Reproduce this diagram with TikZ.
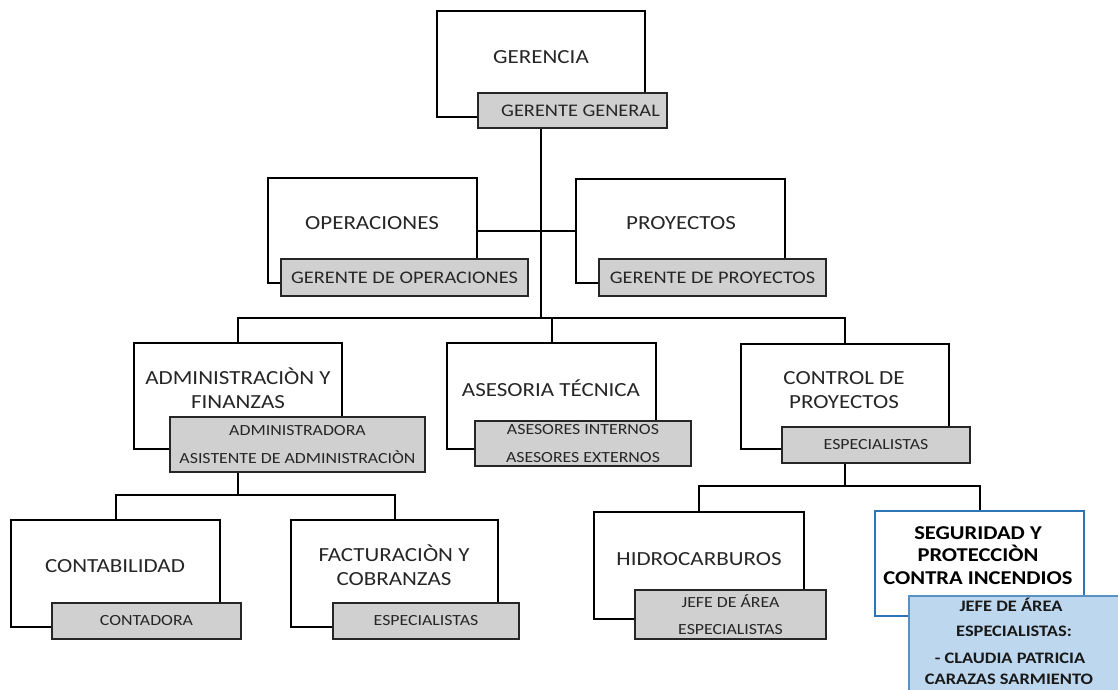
\documentclass[tikz,border=0pt]{standalone}
\usepackage{fontspec}
\setmainfont{Carlito}[FakeStretch=1.15]
\definecolor{txt}{HTML}{262626}
\definecolor{gfill}{HTML}{D0D0D0}
\definecolor{bfill}{HTML}{BDD7EE}
\definecolor{bline}{HTML}{2E75B6}
\tikzset{
  box/.style={draw=black, line width=2pt, fill=white, inner sep=0pt},
  segbox/.style={draw=bline, line width=1.6pt, fill=white, inner sep=0pt},
  gbox/.style={draw=black!85, line width=2.4pt, fill=gfill, inner sep=0pt, text=txt, align=center},
  bluebox/.style={draw=bline!80, line width=1.8pt, fill=bfill, inner sep=0pt},
  mainlbl/.style={text=txt, align=center, inner sep=0pt, font=\fontsize{20}{24}\selectfont},
  glbl/.style={font=\fontsize{15.5}{27.5}\selectfont},
  gtop/.style={font=\fontsize{17.7}{22}\selectfont},
  seglbl/.style={text=black, align=center, inner sep=0pt, font=\bfseries\fontsize{19.6}{22.5}\selectfont},
  bluelbl/.style={text=black!90, align=center, inner sep=0pt, font=\bfseries\fontsize{16}{20}\selectfont},
  conn/.style={draw=black, line width=2pt}
}
\begin{document}
\begin{tikzpicture}[x=1pt,y=-1pt]
\clip (0,0) rectangle (1118,689);
\fill[white] (0,0) rectangle (1118,689);

% white boxes
\node[box, minimum width=208pt, minimum height=106pt] (ger) at (541,64) {};
\node[box, minimum width=209pt, minimum height=105pt] (ope) at (372.5,230.5) {};
\node[box, minimum width=209pt, minimum height=104pt] (pro) at (680.5,230.5) {};
\node[box, minimum width=208pt, minimum height=106pt] (adm) at (238,396) {};
\node[box, minimum width=209pt, minimum height=106pt] (ase) at (551.5,396) {};
\node[box, minimum width=208pt, minimum height=105pt] (con) at (845,396.5) {};
\node[box, minimum width=209pt, minimum height=107pt] (cont) at (115.5,573.5) {};
\node[box, minimum width=207pt, minimum height=107pt] (fac) at (394.5,573.5) {};
\node[box, minimum width=210pt, minimum height=107pt] (hid) at (699,565.5) {};
\node[segbox, minimum width=209pt, minimum height=105pt] (seg) at (979.5,563.5) {};

% junction points
\coordinate (j1) at (541,318);
\coordinate (j2) at (238,495);
\coordinate (j3) at (845,486);

% connectors
\draw[conn] (ope.east) -- (pro.west);
\draw[conn] (adm.north) -- (adm.north |- j1) -- (con.north |- j1) -- (con.north);
\draw[conn] (ase.north) -- (ase.north |- j1);
\draw[conn] (cont.north) |- (j2) -| (fac.north);
\draw[conn] (hid.north) |- (j3) -| (seg.north);

% gray boxes
\node[gbox, gtop, minimum width=189pt, minimum height=35pt] (gger) at (572.5,110.5) {\hspace*{16pt}GERENTE GENERAL};
\node[gbox, gtop, minimum width=247pt, minimum height=37pt] (gope) at (404.5,277.5) {GERENTE DE OPERACIONES};
\node[gbox, gtop, minimum width=227pt, minimum height=37pt] (gpro) at (712.5,277.5) {GERENTE DE PROYECTOS};
\node[gbox, glbl, minimum width=255pt, minimum height=55pt] (gadm) at (297.5,444.5) {ADMINISTRADORA\\ASISTENTE DE ADMINISTRACIÒN};
\node[gbox, glbl, minimum width=216pt, minimum height=45pt] (gase) at (583,443.5) {ASESORES INTERNOS\\ASESORES EXTERNOS};
\node[gbox, glbl, minimum width=188pt, minimum height=36pt] (gcon) at (876,445) {ESPECIALISTAS};
\node[gbox, glbl, minimum width=189pt, minimum height=36pt] (gcont) at (146.5,621) {CONTADORA};
\node[gbox, glbl, minimum width=186pt, minimum height=36pt] (gfac) at (426,621) {ESPECIALISTAS};
\node[gbox, glbl, minimum width=191pt, minimum height=49pt] (ghid) at (730.5,614.5) {JEFE DE ÁREA\\ESPECIALISTAS};
\node[bluebox, minimum width=216pt, minimum height=104pt] (blu) at (1017,648) {};

% connectors from gray boxes
\draw[conn] (gger.south -| ger.south) -- (j1);
\draw[conn] (gadm.south -| adm.south) -- (j2);
\draw[conn] (gcon.south -| con.south) -- (j3);

% main labels
\node[mainlbl] (tger) at (541,57) {GERENCIA};
\node[mainlbl] (tope) at (372,223) {OPERACIONES};
\node[mainlbl] (tpro) at (681,223) {PROYECTOS};
\node[mainlbl] (tadm) at (238,388.5) {ADMINISTRACIÒN Y\\FINANZAS};
\node[mainlbl] (tase) at (551,388) {ASESORIA TÉCNICA};
\node[mainlbl] (tcon) at (844,390) {CONTROL DE\\PROYECTOS};
\node[mainlbl] (tcont) at (115,566) {CONTABILIDAD};
\node[mainlbl] (tfac) at (394,565.5) {FACTURACIÒN Y\\COBRANZAS};
\node[mainlbl] (thid) at (699,559) {HIDROCARBUROS};
\node[seglbl] (tseg) at (978,555.5) {SEGURIDAD Y\\PROTECCIÒN\\CONTRA INCENDIOS};

% blue box labels
\node[bluelbl] (tb1) at (1011,605) {JEFE DE ÁREA};
\node[bluelbl] (tb2) at (1014,631) {ESPECIALISTAS:};
\node[bluelbl] (tb3) at (1010,658) {- CLAUDIA PATRICIA};
\node[bluelbl] (tb4) at (1009,679) {CARAZAS SARMIENTO};
\end{tikzpicture}
\end{document}
